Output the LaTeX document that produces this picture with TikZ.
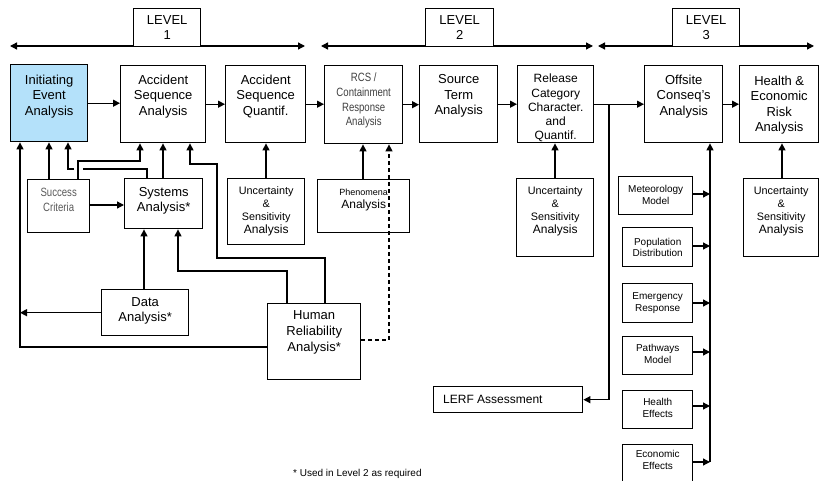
\documentclass[tikz,border=0pt]{standalone}
\usepackage{fontspec}
\setmainfont{Liberation Sans}
\newfontfamily\narrowfont[FakeStretch=0.8]{Liberation Sans}
\usetikzlibrary{arrows.meta}
\definecolor{iefill}{RGB}{180,225,250}
\newcommand\mybox[6][]{\node[box,#1,minimum width={(#5-#3)*1pt},minimum height={(#6-#4)*1pt}] (#2) at (#3,#4) {};}
\tikzset{
  box/.style={draw, line width=1.4pt, inner sep=0pt, anchor=north west},
  tx/.style={align=center, inner sep=0pt, font=\fontsize{13}{15.5}\selectfont},
  sub/.style={align=center, inner sep=0pt, font=\fontsize{10}{11.5}\selectfont},
  unc/.style={align=center, inner sep=0pt, font=\fontsize{10.8}{13.3}\selectfont},
  arr/.style={-{Triangle[length=7pt,width=7pt]}, line width=1.3pt},
  darr/.style={{Triangle[length=7pt,width=7pt]}-{Triangle[length=7pt,width=7pt]}, line width=1.3pt},
  dsh/.style={arr, dash pattern=on 4pt off 3pt}
}
\begin{document}
\begin{tikzpicture}[x=1pt,y=-1pt]
\useasboundingbox (0,0) rectangle (819,481);
\clip (0,0) rectangle (819,481);
% level arrows
\coordinate (l1a) at (10,46); \coordinate (l1b) at (305,46);
\coordinate (l2a) at (321,46); \coordinate (l2b) at (593,46);
\coordinate (l3a) at (598,46); \coordinate (l3b) at (814,46);
\draw[darr] (l1a) -- (l1b);
\draw[darr] (l2a) -- (l2b);
\draw[darr] (l3a) -- (l3b);
\mybox[fill=white]{lv1}{133}{8}{200}{46}
\mybox[fill=white]{lv2}{425}{8}{493}{46}
\mybox[fill=white]{lv3}{672}{8}{739}{46}
\node[tx] (lv1-t) at (lv1.center) {LEVEL\\1};
\node[tx] (lv2-t) at (lv2.center) {LEVEL\\2};
\node[tx] (lv3-t) at (lv3.center) {LEVEL\\3};
% main row
\mybox[fill=iefill]{ie}{10}{64}{87}{141}
\mybox{asa}{120}{65}{205}{142}
\mybox{asq}{225}{65}{305}{142}
\mybox{rcs}{324}{65}{402}{143}
\mybox{st}{419}{65}{497}{142}
\mybox{rc}{517}{65}{593}{142}
\mybox{oc}{644}{65}{722}{142}
\mybox{her}{739}{65}{818}{142}
\node[tx,anchor=north] (ie-t) at ([yshift=-10.5pt]ie.north) {Initiating\\Event\\Analysis};
\node[tx,anchor=north] (asa-t) at ([yshift=-9.5pt]asa.north) {Accident\\Sequence\\Analysis};
\node[tx,anchor=north] (asq-t) at ([yshift=-9.5pt]asq.north) {Accident\\Sequence\\Quantif.};
\node[tx,anchor=north,font=\narrowfont\fontsize{12}{14.7}\selectfont,text=black!75] (rcs-t) at ([yshift=-8pt]rcs.north) {RCS /\\Containment\\Response\\Analysis};
\node[tx,anchor=north] (st-t) at ([yshift=-9.5pt]st.north) {Source\\Term\\Analysis};
\node[tx,anchor=north,font=\fontsize{12}{14.2}\selectfont] (rc-t) at ([yshift=-9pt]rc.north) {Release\\Category\\Character.\\and\\Quantif.};
\node[tx,anchor=north] (oc-t) at ([yshift=-9.5pt]oc.north) {Offsite\\Conseq's\\Analysis};
\node[tx,anchor=north] (her-t) at ([yshift=-10.5pt]her.north) {Health \&\\Economic\\Risk\\Analysis};
\draw[arr] (ie.east) -- (ie.east -| asa.west);
\draw[arr] (asa.east) -- (asa.east -| asq.west);
\draw[arr] (asq.east) -- (asq.east -| rcs.west);
\draw[arr] (rcs.east) -- (rcs.east -| st.west);
\draw[arr] (st.east) -- (st.east -| rc.west);
\draw[arr] (rc.east) -- (rc.east -| oc.west);
\draw[arr] (oc.east) -- (oc.east -| her.west);
% uncertainty boxes
\mybox{u1}{227}{178}{304}{244}
\mybox{u2}{516}{178}{593}{256}
\mybox{u3}{743}{178}{818}{256}
\foreach \u in {u1,u2,u3}{
  \node[unc,anchor=north] (\u-t) at ([yshift=-8pt]\u.north) {Uncertainty\\\&\\Sensitivity\\{\fontsize{12}{13.3}\selectfont Analysis}};
}
\draw[arr] (266,0 |- u1.north) -- (266,0 |- asq.south);
\draw[arr] (555,0 |- u2.north) -- (555,0 |- rc.south);
\draw[arr] (782,0 |- u3.north) -- (782,0 |- her.south);
% phenomena
\mybox{pha}{317}{179}{409}{232}
\node[unc,anchor=north,font=\fontsize{9}{13}\selectfont] (pha-t) at ([yshift=-10pt]pha.north) {Phenomena\\{\fontsize{12}{13}\selectfont Analysis}};
\draw[arr] (363,0 |- pha.north) -- (363,0 |- rcs.south);
% left cluster
\mybox{sc}{27}{179}{89}{232}
\mybox{sys}{124}{178}{202}{228}
\mybox{dat}{101}{289}{188}{335}
\mybox{hra}{267}{303}{360}{379}
\node[tx,anchor=north,font=\narrowfont\fontsize{12}{15}\selectfont,text=black!65] (sc-t) at ([yshift=-9pt]sc.north) {Success\\Criteria};
\node[tx,anchor=north,font=\fontsize{13}{15}\selectfont] (sys-t) at ([yshift=-9.5pt]sys.north) {Systems\\Analysis*};
\node[tx,font=\fontsize{13}{15}\selectfont] (dat-t) at ([yshift=1.5pt]dat.center) {Data\\Analysis*};
\node[tx,anchor=north,font=\fontsize{13}{16}\selectfont] (hra-t) at ([yshift=-7pt]hra.north) {Human\\Reliability\\Analysis*};
\draw[arr] (49,0 |- sc.north) -- (49,0 |- ie.south);
\draw[arr] (78,0 |- sc.north) -- (78,161) -- (140,161) -- (140,0 |- asa.south);
\draw[line width=1.3pt] (147,0 |- sys.north) -- (147,169) -- (83,169);
\coordinate (gap) at (74,169);
\draw[arr] (gap) -- (68,169) -- (68,0 |- ie.south);
\draw[arr] (163,0 |- sys.north) -- (163,0 |- asa.south);
\draw[arr] (325,0 |- hra.north) -- (325,258) -- (217,258) -- (217,164) -- (190,164) -- (190,0 |- asa.south);
\draw[arr] (sc.east |- 0,205) -- (sys.west |- 0,205);
\draw[arr] (144,0 |- dat.north) -- (144,0 |- sys.south);
\draw[arr] (287,0 |- hra.north) -- (287,271) -- (178,271) -- (178,0 |- sys.south);
\draw[arr] (dat.west) -- (20,0 |- dat.west);
\draw[arr] (hra.west |- 0,347) -- (20,347) -- (20,0 |- ie.south);
\draw[dsh] (hra.east |- 0,340) -- (389,340) -- (389,0 |- rcs.south);
% LERF
\mybox{lerf}{433}{386}{582}{412}
\node[tx,anchor=west,font=\fontsize{12}{14}\selectfont] (lerf-t) at ([xshift=10pt]lerf.west) {LERF Assessment};
\draw[arr] (609,0 |- rc.east) |- (lerf.east);
% offsite sub-boxes
\mybox{met}{618}{176}{692}{214}
\mybox{pop}{622}{227}{692}{266}
\mybox{emr}{622}{283}{692}{322}
\mybox{pth}{622}{336}{692}{374}
\mybox{hef}{622}{390}{692}{428}
\mybox{eco}{622}{444}{692}{484}
\node[sub] (met-t) at ([yshift=1pt]met.center) {Meteorology\\Model};
\node[sub] (pop-t) at (pop.center) {Population\\Distribution};
\node[sub] (emr-t) at (emr.center) {Emergency\\Response};
\node[sub] (pth-t) at ([yshift=2pt]pth.center) {Pathways\\Model};
\node[sub] (hef-t) at ([yshift=2pt]hef.center) {Health\\Effects};
\node[sub] (eco-t) at ([yshift=5pt]eco.center) {Economic\\Effects};
\draw[arr] (met.east |- 0,194) -- (710,194);
\draw[arr] (pop.east |- 0,246) -- (710,246);
\draw[arr] (emr.east |- 0,303) -- (710,303);
\draw[arr] (pth.east |- 0,352) -- (710,352);
\draw[arr] (hef.east |- 0,406) -- (710,406);
\draw[arr] (eco.east |- 0,462) -- (710,462);
\draw[arr] (710,462) -- (710,0 |- oc.south);
% footnote
\node[anchor=north west,inner sep=0pt,font=\fontsize{10}{12}\selectfont] (fn) at (293,469) {* Used in Level 2 as required};
\end{tikzpicture}
\end{document}
